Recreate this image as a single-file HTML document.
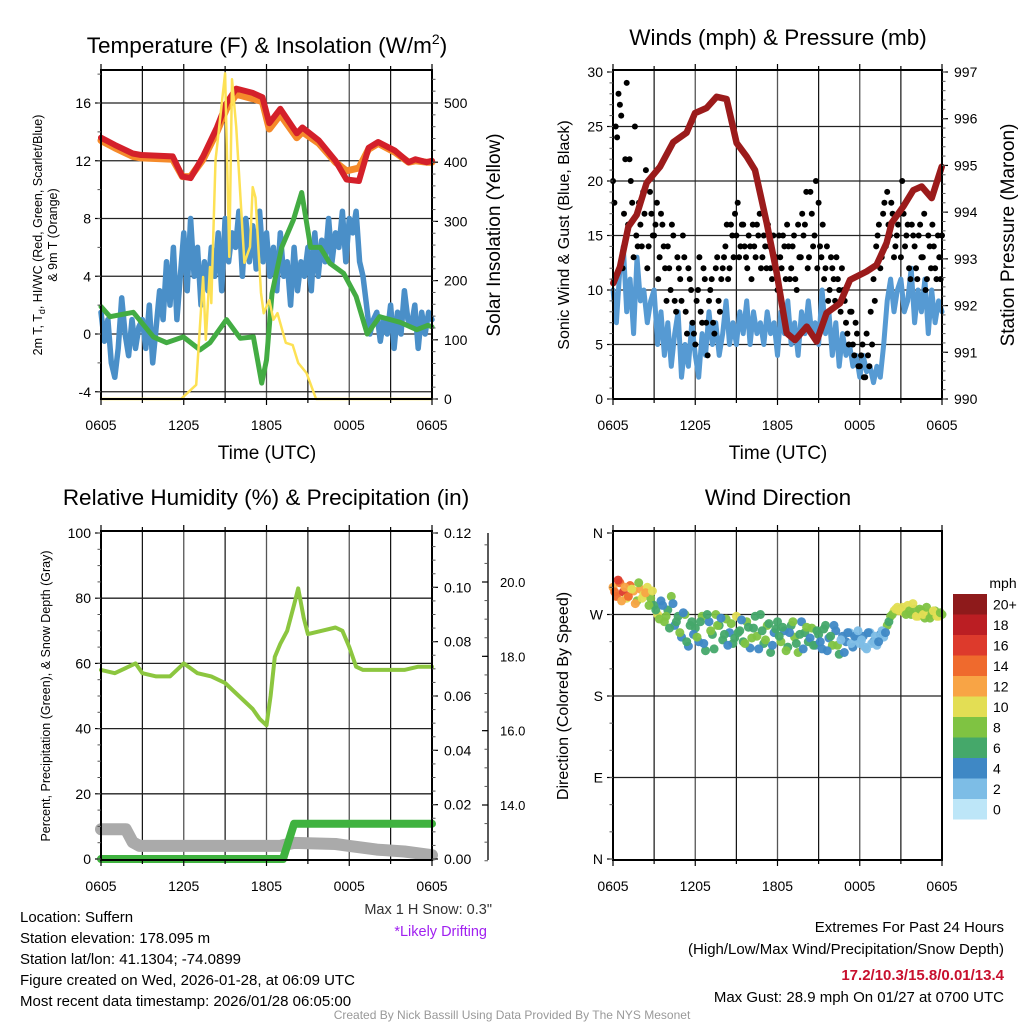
<!DOCTYPE html>
<html><head><meta charset="utf-8"><title>Mesonet Station Chart</title>
<style>
html,body{margin:0;padding:0;background:#fff;}
svg{display:block;font-family:"Liberation Sans",Arial,sans-serif;}
</style></head>
<body>
<svg id="chart" width="1024" height="1024" viewBox="0 0 1024 1024" xmlns="http://www.w3.org/2000/svg">
<rect x="0" y="0" width="1024" height="1024" fill="#fff"/>
<text x="267" y="53" font-size="22.5" text-anchor="middle">Temperature (F) &amp; Insolation (W/m<tspan font-size="14" dy="-9">2</tspan><tspan dy="9">)</tspan></text>
<text x="778" y="45" font-size="22.5" text-anchor="middle">Winds (mph) &amp; Pressure (mb)</text>
<text x="266" y="505" font-size="22.5" text-anchor="middle">Relative Humidity (%) &amp; Precipitation (in)</text>
<text x="778" y="505" font-size="22.5" text-anchor="middle">Wind Direction</text>
<text transform="translate(42,235) rotate(-90)" font-size="12.5" text-anchor="middle">2m T, T<tspan font-size="9" dy="3">d</tspan><tspan dy="-3">, HI/WC (Red, Green, Scarlet/Blue)</tspan></text>
<text transform="translate(57,235) rotate(-90)" font-size="12.5" text-anchor="middle">&amp; 9m T (Orange)</text>
<text transform="translate(500,235) rotate(-90)" font-size="19" text-anchor="middle">Solar Insolation (Yellow)</text>
<text x="267" y="459" font-size="19" text-anchor="middle">Time (UTC)</text>
<text transform="translate(569,235) rotate(-90)" font-size="16" text-anchor="middle">Sonic Wind &amp; Gust (Blue, Black)</text>
<text transform="translate(1014,235) rotate(-90)" font-size="19" text-anchor="middle">Station Pressure (Maroon)</text>
<text x="778" y="459" font-size="19" text-anchor="middle">Time (UTC)</text>
<text transform="translate(50,696) rotate(-90)" font-size="12.5" text-anchor="middle">Percent, Precipitation (Green), &amp; Snow Depth (Gray)</text>
<text transform="translate(568,696) rotate(-90)" font-size="16" text-anchor="middle">Direction (Colored By Speed)</text>
<text x="492" y="914" font-size="14.5" text-anchor="end" fill="#333">Max 1 H Snow: 0.3"</text>
<text x="487" y="936" font-size="14.5" text-anchor="end" fill="#a020f0">*Likely Drifting</text>
<g font-size="15">
<text x="20" y="922">Location: Suffern</text>
<text x="20" y="943">Station elevation: 178.095 m</text>
<text x="20" y="964">Station lat/lon: 41.1304; -74.0899</text>
<text x="20" y="985">Figure created on Wed, 2026-01-28, at 06:09 UTC</text>
<text x="20" y="1006">Most recent data timestamp: 2026/01/28 06:05:00</text>
</g>
<g font-size="15" text-anchor="end">
<text x="1004" y="932">Extremes For Past 24 Hours</text>
<text x="1004" y="954">(High/Low/Max Wind/Precipitation/Snow Depth)</text>
<text x="1004" y="980" fill="#c8102e" font-weight="bold">17.2/10.3/15.8/0.01/13.4</text>
<text x="1004" y="1002">Max Gust: 28.9 mph On 01/27 at 0700 UTC</text>
</g>
<text x="512" y="1019" font-size="12" text-anchor="middle" fill="#999">Created By Nick Bassill Using Data Provided By The NYS Mesonet</text>
<g id="layer"></g>
</svg>
<script>
const timeTickLabels = ["0605","1205","1805","0005","0605"];
const timeTickHours = [0,6,12,18,24];
const tempTickLabels = ["-4","0","4","8","12","16"];
const tempTickValues = [-4,0,4,8,12,16];
const insolTickValues = [0,100,200,300,400,500];
const windTickValues = [0,5,10,15,20,25,30];
const presTickValues = [990,991,992,993,994,995,996,997];
const rhTickValues = [0,20,40,60,80,100];
const precipTickLabels = ["0.00","0.02","0.04","0.06","0.08","0.10","0.12"];
const precipTickValues = [0,0.02,0.04,0.06,0.08,0.10,0.12];
const snowTickLabels = ["14.0","16.0","18.0","20.0"];
const snowTickValues = [14,16,18,20];
const dirTickLabels = ["N","E","S","W","N"];
const dirTickValues = [0,90,180,270,360];
const speedBinLabels = ["0","2","4","6","8","10","12","14","16","18","20+"];

const redHours = [0,1,2.3,2.9,5.2,5.9,6.5,7.4,8.4,9.1,9.8,11,11.7,12.2,13,14.2,14.6,15.8,17,17.8,18.7,19.4,20.1,21.3,22.3,22.8,23.6,24];
const redTemp =  [13.6,13.1,12.5,12.4,12.3,10.9,10.8,12.3,14.3,16,17,16.7,16.4,14.6,15.6,13.9,14.3,13.4,12,10.7,10.6,12.9,13.3,12.7,11.9,12.1,11.9,12];
const orangeTemp=[13.4,12.9,12.3,12.2,12.1,10.9,10.9,12.1,14.0,15.6,16.6,16.3,16.1,14.2,15.2,13.6,14.0,13.2,11.9,11.3,11.5,12.8,13.2,12.6,11.9,12.0,11.9,11.9];
const greenHours = [0,0.65,2.34,3.8,4.76,5.97,7.18,7.9,9.1,10.1,11.05,11.65,12,12.4,13.1,13.95,14.55,15.2,15.9,16.6,17.6,18.5,19.3,20.2,21.7,22.9,23.7,24];
const greenTemp = [1.9,1.2,1.5,-0.2,-0.6,-0.2,-1.1,-0.6,1,-0.3,-0.2,-3.4,-1.8,2.8,6,7.9,9.8,6,6,4.9,4.2,2.6,0,1.2,0.8,0.3,0.6,0.5];
const blueTemp = [1.5,-0.5,1,-2,-3,-1,2.5,0,-1.5,1,-1,0.5,
 1,-1,2,-2,0.5,3,1,5,2,6,1,4,
 7,3,8,4,6,2,5,3,6,4,7,3,
 8,5,7,6,8.5,4,8,5,7.5,4.5,8.5,5,
 7,4,6,3,7,4,5,2,6,3,5,4,
 6,3,7,4,6.5,5,8,5,7,6,8.5,5,
 8,7,8.5,5,4,2,0,1,1.5,-0.5,1,0,
 2,-1,1.5,0,3,1,0.5,2,-1,1.5,0,1.5,1];
const insolHours = [0,5.8,6.9,7.4,7.6,7.9,8.0,8.3,9.0,9.3,9.5,9.8,10.4,10.8,11.0,11.2,11.6,11.8,12.2,12.5,12.8,13.4,13.9,14.3,14.9,15.6,24];
const insolValues = [0,0,24,206,100,223,162,403,550,240,540,460,230,257,358,340,179,145,167,134,145,95,91,61,44,0,0];

const presHours = [0.02,0.51,1.12,1.73,2.46,3.43,4.4,5.37,5.98,6.83,7.56,8.29,9.02,9.75,10.36,11.21,11.94,12.67,13.28,14.13,14.85,15.58,16.56,17.29,18.5,19.23,19.96,20.33,21.18,21.91,22.52,23.25,23.98];
const presValues = [992.48,992.83,993.69,993.94,994.63,994.97,995.5,995.7,996.12,996.23,996.47,996.42,995.48,995.19,994.9,993.77,992.7,991.41,991.26,991.55,991.23,991.84,992.05,992.55,992.73,992.87,993.34,993.77,994.12,994.47,994.55,994.3,994.97];
const windSpeed = [10,7,12,14,8,11,6,13,9,10,7,9,
 10,5,8,4,7,3,6,8,2,5,3,7,
 4,2,6,4,8,5,7,4,6,9,5,7,
 5,8,6,9,5,8,6,7,5,8,6,7,
 4,8,6,9,5,7,4,8,6,9,6,7,
 5,10,6,8,4,7,3,6,4,5,3,4,
 2,4,2.5,3,1.5,3,2,5,9,11,8,10,
 11,8,9,12,7,10,8,11,6,10,7,9,8];
const gustSpeed = [20,25,28,26,17, 29,22,18,25,14, 16,19,21,14,17, 15,18,13,16,12,
 14,10,15,8,12, 9,13,6,11,7, 5,10,8,12,7, 9,11,6,13,8,
 12,14,11,16,13, 15,13,16,14,12, 14,16,13,15,12, 15,12,14,11,13,
 10,13,15,11,14, 12,15,10,13,17, 16,12,19,14,20, 18,13,11,14,10,
 12,9,11,8,10, 7,5,8,4,6, 3,5,2,4,8, 11,14,16,13,18,
 19,15,17,14,16, 13,17,15,12,16, 14,11,16,13,10, 15,12,14,11,13, 15];
const gustSpeed2 = [18,24,27,12,22, 16,20,13,15,18, 14,17,12,19,15, 16,11,17,14,9,
 12,16,9,13,11, 15,8,12,10,6, 9,13,7,11,4, 10,7,12,9,11,
 13,16,12,15,17, 18,14,16,13,15, 11,14,16,17,13, 14,16,12,15,13,
 15,12,14,16,11, 14,11,16,13,15, 19,13,17,15,12, 14,16,12,9,13,
 11,13,10,12,9, 6,8,5,7,3, 4,2,6,3,5, 9,15,12,17,14,
 16,18,13,15,17, 20,14,16,11,15, 12,15,13,17,11, 14,16,12,15,11];

const rhHours = [0,1,2,2.5,3,4,5,6,7,8,9,10,11,11.5,12,12.3,12.6,13,13.5,14,14.3,14.7,15,16,17,17.5,18,18.5,19,20,21,22,23,24];
const rhValues = [58,57,59,60,57,56,56,60,57,56,54,50,46,43,41,50,62,66,70,78,83,74,69,70,71,70,65,59,58,58,58,58,59,59];
const precipHours = [0,13.2,14.0,24];
const precipValues = [0,0,0.013,0.013];
const snowHours = [0,1.8,2.3,2.8,13,13.6,14,17,18,20,22,23,24];
const snowValues = [13.35,13.35,13.0,12.9,12.9,12.95,12.98,12.95,12.9,12.8,12.75,12.7,12.65];

const dirValues = [300,290,305,295,288,302,296,285,298,292,300,288,
 280,270,285,262,275,290,258,268,245,270,235,262,
 255,240,268,230,262,248,270,258,242,265,250,238,
 268,252,240,262,233,255,246,270,238,258,228,250,
 262,240,252,234,258,245,228,262,250,240,255,236,
 248,232,258,244,236,252,226,246,240,250,234,244,
 238,246,232,250,240,236,248,245,258,268,274,278,
 276,272,280,270,276,268,274,266,272,270,274,268,270];
const dirSpeed = [12,14,13,16,10,14,12,8,11,9,10,7,
 6,9,4,7,5,8,3,6,4,7,3,5,
 6,4,7,5,3,6,8,5,6,7,4,6,
 10,5,6,7,4,6,8,5,6,7,5,4,
 6,7,4,6,5,8,7,4,6,5,7,3,
 5,4,6,3,7,4,5,3,4,2,3,2,
 2,3,1,2,3,2,4,2,7,8,9,10,
 8,9,10,7,8,9,7,8,10,7,8,9,8];
const dirValues2 = [295,308,285,300,290,298,282,305,288,294,280,296,
 275,265,280,268,255,282,262,250,272,240,258,248,
 245,262,238,270,252,232,258,266,248,236,260,244,
 250,264,238,256,244,268,232,252,242,260,236,254,
 246,256,230,250,262,238,248,232,256,244,236,252,
 240,254,230,246,258,236,242,228,250,238,246,252,
 242,234,250,238,246,240,252,250,262,270,276,274,
 278,270,274,282,268,276,270,278,266,274,268,272];
const dirSpeed2 = [13,15,11,12,14,9,11,8,10,12,8,9,
 5,7,4,8,6,3,5,7,4,6,5,3,
 7,5,4,6,8,5,7,3,6,4,7,5,
 6,4,7,5,8,6,4,5,7,6,3,5,
 5,6,8,4,7,5,6,4,7,3,6,5,
 4,6,3,5,4,7,2,4,3,2,3,2,
 1,2,3,2,1,3,2,3,6,8,10,9,
 9,8,7,10,9,8,9,7,8,10,9,8];
const speedColors = ["#bde6f8","#7dbde6","#3f88c5","#45a86a","#7fc342","#e3de54","#f8a445","#ef6a2d","#dd3a2c","#bb1e23","#8e1a1b"];

const NS = "http://www.w3.org/2000/svg";
const layer = document.getElementById("layer");
function mk(tag, attrs, parent){ const e=document.createElementNS(NS,tag); for(const k in attrs) e.setAttribute(k,attrs[k]); (parent||layer).appendChild(e); return e; }
function lin(d0,d1,r0,r1){ return v => r0 + (v-d0)*(r1-r0)/(d1-d0); }
function pathFrom(xs, ys){ return xs.map((x,i)=>(i?"L":"M")+x.toFixed(1)+","+ys[i].toFixed(1)).join(""); }
const stepHours = n => Array.from({length:n},(_,i)=>i*24/(n-1));
const offsetHours = (n,step,off) => Array.from({length:n},(_,i)=>off+i*step);

function frame(name, L,T,R,B, xS, yMajors, yS){
  const g = mk("g",{});
  
  
  timeTickHours.forEach(h=>{ const x=xS(h); const l=mk("line",{x1:x,x2:x,y1:T,y2:B,stroke:"#555","stroke-width":1.3},g);
    
     });
  for(let k=0;k<4;k++){ const x=xS(3+6*k); const l=mk("line",{x1:x,x2:x,y1:T,y2:B,stroke:"#111","stroke-width":1.2},g);
    
     }
  yMajors.forEach(v=>{ const y=yS(v); const l=mk("line",{x1:L,x2:R,y1:y,y2:y,stroke:"#222","stroke-width":1.3},g);
    
     });
  return g;
}
function box(name,L,T,R,B){
  const r=mk("rect",{x:L,y:T,width:R-L,height:B-T,fill:"none",stroke:"#000","stroke-width":2});
  
  
  for(let h=0;h<=24;h+=3){ const x=L+(R-L)*h/24; const len=h%6===0?6:4;
    const t1=mk("line",{x1:x,x2:x,y1:B,y2:B+len,stroke:"#000","stroke-width":1.2});
    
    
    const t2=mk("line",{x1:x,x2:x,y1:T,y2:T-len,stroke:"#000","stroke-width":1.2});
    
     }
}
function yTicks(x, side, values, scale, labels, minorStep, lo, hi, fs, name){
  values.forEach((v,i)=>{ const y=scale(v);
    const t=mk("line",{x1:x,x2:x+side*6,y1:y,y2:y,stroke:"#000","stroke-width":1.2});
    
    
    const tx=mk("text",{x:x+side*(side<0?10:12),y:y+5,"font-size":fs,"text-anchor":side<0?"end":"start"});
    tx.textContent = labels ? labels[i] : String(v);
    
     });
  if(minorStep){ for(let v=lo; v<=hi+1e-9; v+=minorStep){ const y=scale(v);
    const t=mk("line",{x1:x,x2:x+side*3.5,y1:y,y2:y,stroke:"#555","stroke-width":1});
    
     } }
}
function xLabels(xS, y, name){
  timeTickHours.forEach((h,i)=>{ const t=mk("text",{x:xS(h),y:y,"font-size":14,"text-anchor":"middle"});
    t.textContent=timeTickLabels[i];
    
     });
}
function line(d, color, w, name){
  const p=mk("path",{d:d,fill:"none",stroke:color,"stroke-width":w,"stroke-linejoin":"round","stroke-linecap":"round"});
  
  
  return p;
}

// Panel 1
{
  const L=101,T=70,R=432,B=399;
  const x=lin(0,24,L,R), y=lin(0,16,334,103), yr=lin(0,500,399,103);
  frame("temperature",L,T,R,B,x,tempTickValues,y);
  line(pathFrom(redHours.map(x),orangeTemp.map(y)),"#f58a2a",7,"series-9m-temp-orange");
  line(pathFrom(redHours.map(x),redTemp.map(y)),"#d4202a",6,"series-2m-temp-red");
  line(pathFrom(stepHours(blueTemp.length).map(x),blueTemp.map(y)),"#4a8fc8",5.5,"series-scarlet-blue");
  line(pathFrom(greenHours.map(x),greenTemp.map(y)),"#43ac43",5,"series-hi-wc-green");
  line(pathFrom(insolHours.map(x),insolValues.map(yr)),"#fde154",2.5,"series-insolation-yellow");
  box("temperature",L,T,R,B);
  yTicks(L,-1,tempTickValues,y,tempTickLabels,2,-4,18,14,"temperature-y");
  yTicks(R,1,insolTickValues,yr,null,20,0,540,14,"insolation-y");
  xLabels(x,430,"temperature");
}
// Panel 2
{
  const L=613,T=70,R=942,B=399;
  const x=lin(0,24,L,R), y=lin(0,30,399,72), yr=lin(990,997,399,72);
  frame("winds",L,T,R,B,x,[5,10,15,20,25],y);
  line(pathFrom(stepHours(windSpeed.length).map(x),windSpeed.map(y)),"#569ad3",5,"series-sonic-wind-blue");
  const gh=stepHours(gustSpeed.length);
  gustSpeed.forEach((v,i)=>{ const c=mk("circle",{cx:x(gh[i]).toFixed(1),cy:y(v).toFixed(1),r:3,fill:"#000"});
    
     });
  const gh2=offsetHours(gustSpeed2.length,0.2,0.1);
  gustSpeed2.forEach((v,i)=>{ const c=mk("circle",{cx:x(gh2[i]).toFixed(1),cy:y(v).toFixed(1),r:3,fill:"#000"});
    
     });
  line(pathFrom(presHours.map(x),presValues.map(yr)),"#9b1b1b",6.5,"series-pressure-maroon");
  box("winds",L,T,R,B);
  yTicks(L,-1,windTickValues,y,null,1,0,30,14,"wind-y");
  yTicks(R,1,presTickValues,yr,null,0.2,990,997,14,"pressure-y");
  xLabels(x,430,"winds");
}
// Panel 3
{
  const L=101,T=531,R=432,B=860;
  const x=lin(0,24,L,R), y=lin(0,100,859,533), yr=lin(0,0.12,859,533), ys=lin(14,20,805,582);
  frame("humidity",L,T,R,B,x,[20,40,60,80],y);
  line(pathFrom(snowHours.map(x),snowValues.map(ys)),"#aaaaaa",12,"series-snow-depth-gray");
  line(pathFrom(rhHours.map(x),rhValues.map(y)),"#8cc63f",4,"series-relative-humidity");
  line(pathFrom(precipHours.map(x),precipValues.map(yr)),"#3fb23f",8,"series-precipitation");
  box("humidity",L,T,R,B);
  yTicks(L,-1,rhTickValues,y,null,5,0,100,14,"rh-y");
  yTicks(R,1,precipTickValues,yr,precipTickLabels,0.005,0,0.12,14,"precip-y");
  const ax=mk("line",{x1:488,x2:488,y1:533,y2:860,stroke:"#000","stroke-width":1.3});
  
  
  yTicks(488,-1,[],ys,null,0.5,12.5,21,12,"snow-y");
  snowTickValues.forEach((v,i)=>{ const yy=ys(v);
    const t=mk("line",{x1:488,x2:482,y1:yy,y2:yy,stroke:"#000","stroke-width":1.2});
    
    
    const tx=mk("text",{x:500,y:yy+5,"font-size":13});
    tx.textContent=snowTickLabels[i];
    
     });
  xLabels(x,891,"humidity");
}
// Panel 4
{
  const L=613,T=531,R=942,B=860;
  const x=lin(0,24,L,R), y=lin(0,360,859,533);
  frame("direction",L,T,R,B,x,[90,180,270],y);
  const dh=stepHours(dirValues.length);
  dirValues.forEach((v,i)=>{ const bin=Math.min(10,Math.max(0,Math.round(dirSpeed[i]/2)));
    const c=mk("circle",{cx:x(dh[i]).toFixed(1),cy:y(v).toFixed(1),r:4.5,fill:speedColors[bin],"fill-opacity":0.95});
    
     });
  const dh2=offsetHours(dirValues2.length,0.25,0.125);
  dirValues2.forEach((v,i)=>{ const bin=Math.min(10,Math.max(0,Math.round(dirSpeed2[i]/2)));
    const c=mk("circle",{cx:x(dh2[i]).toFixed(1),cy:y(v).toFixed(1),r:4.5,fill:speedColors[bin],"fill-opacity":0.95});
    
     });
  box("direction",L,T,R,B);
  yTicks(L,-1,dirTickValues,y,dirTickLabels,30,0,360,14,"direction-y");
  xLabels(x,891,"direction");
  const mph=mk("text",{x:1003,y:588,"font-size":14,"text-anchor":"middle"});
  mph.textContent="mph";
  
  
  const n=speedBinLabels.length, top=594, h=20.5;
  for(let i=0;i<n;i++){ const bin=n-1-i;
    const r=mk("rect",{x:953,y:top+i*h,width:34,height:h,fill:speedColors[bin]});
    
    
    const t=mk("text",{x:993,y:top+i*h+h/2+5,"font-size":14});
    t.textContent=speedBinLabels[bin];
    
     }
}
</script>
</body></html>
